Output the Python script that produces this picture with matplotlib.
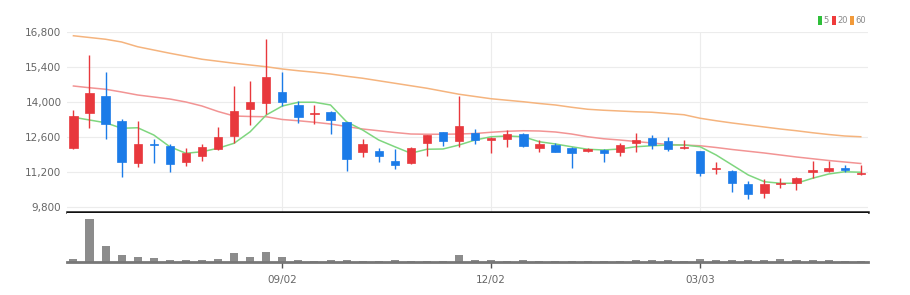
import matplotlib
matplotlib.use("Agg")
import matplotlib.pyplot as plt
import numpy as np
from matplotlib.patches import Rectangle

plt.rcParams['font.family'] = ['Liberation Sans Narrow', 'DejaVu Sans']

opens = [12160, 13547, 14240, 13253, 11547, 12333, 12240, 11613, 11840, 12107,
         12653, 13707, 13973, 14400, 13880, 13533, 13600, 13187, 12013, 12040,
         11640, 11547, 12360, 12787, 12427, 12773, 12480, 12520, 12720, 12173,
         12280, 12173, 12053, 12093, 12013, 12373, 12560, 12440, 12147, 12040,
         11307, 11240, 10707, 10373, 10707, 10747, 11213, 11253, 11360, 11133]
closes = [13440, 14347, 13107, 11587, 12333, 12293, 11507, 11947, 12213, 12613,
          13627, 13987, 15000, 14013, 13413, 13573, 13280, 11720, 12333, 11827,
          11467, 12173, 12667, 12427, 13040, 12480, 12560, 12733, 12253, 12333,
          12013, 11947, 12120, 11947, 12293, 12480, 12280, 12133, 12200, 11173,
          11373, 10747, 10307, 10707, 10760, 10973, 11280, 11360, 11267, 11173]
highs = [13680, 15880, 15187, 13307, 13253, 12507, 12320, 12173, 12320, 12987,
         14640, 14853, 16507, 15187, 14040, 13893, 13640, 13213, 12533, 12173,
         12107, 12213, 12680, 12813, 14240, 12933, 12613, 12867, 12773, 12467,
         12373, 12200, 12147, 12120, 12373, 12747, 12667, 12613, 12480, 12053,
         11587, 11267, 10840, 10920, 10973, 11013, 11640, 11640, 11480, 11467]
lows = [12120, 12960, 12507, 11013, 11413, 11573, 11187, 11453, 11653, 12080,
        12347, 13080, 13520, 13840, 13173, 13107, 12720, 11240, 11813, 11600,
        11307, 11520, 11840, 12253, 12213, 12307, 11973, 12187, 12213, 12013,
        11987, 11347, 12013, 11587, 11853, 12013, 12107, 12027, 12107, 11053,
        11120, 10400, 10107, 10160, 10547, 10480, 10947, 11213, 11213, 11093]
ma5 = [13390, 13280, 13170, 12950, 12970, 12680, 12210, 11950, 12010, 12150,
       12350, 12810, 13480, 13840, 13990, 13990, 13880, 13210, 12880, 12480,
       12210, 11950, 12110, 12120, 12280, 12480, 12610, 12640, 12610, 12410,
       12320, 12210, 12110, 12080, 12120, 12210, 12250, 12280, 12280, 12210,
       11880, 11480, 11080, 10810, 10750, 10750, 10950, 11120, 11210, 11190]
ma20 = [14640, 14570, 14510, 14400, 14280, 14200, 14120, 14000, 13840, 13620,
        13440, 13420, 13410, 13300, 13250, 13190, 13120, 13020, 12920, 12850,
        12780, 12720, 12710, 12710, 12720, 12740, 12790, 12830, 12850, 12840,
        12800, 12720, 12610, 12530, 12480, 12420, 12360, 12300, 12280, 12250,
        12180, 12100, 12030, 11960, 11880, 11800, 11730, 11660, 11600, 11540]
ma60 = [16650, 16580, 16510, 16400, 16210, 16080, 15950, 15830, 15710, 15630,
        15550, 15480, 15410, 15320, 15250, 15190, 15120, 15030, 14950, 14850,
        14750, 14650, 14550, 14430, 14310, 14220, 14130, 14070, 14010, 13940,
        13880, 13790, 13710, 13670, 13640, 13610, 13590, 13540, 13490, 13350,
        13250, 13160, 13080, 13000, 12920, 12850, 12770, 12700, 12640, 12610]
volumes = [9, 131, 47, 21, 14, 11, 7, 6, 6, 9,
           26, 14, 31, 14, 6, 4, 6, 7, 3, 3,
           6, 3, 3, 3, 22, 5, 5, 3, 6, 3,
           3, 3, 3, 3, 3, 7, 6, 6, 3, 9,
           7, 7, 7, 5, 10, 5, 7, 7, 3, 3]
price_ticks = [9800, 11200, 12600, 14000, 15400, 16800]
date_tick_idx = [13, 26, 39]
date_tick_labels = ['09/02', '12/02', '03/03']
ma_labels = ['5', '20', '60']

RED = '#e8383d'
BLUE = '#1b7be8'
MA_COLORS = ['#7fd67f', '#f29494', '#f5b47e']
LEG_COLORS = ['#2fbf3a', '#ef3b3b', '#f29a3a']

W, H = 910, 295
fig = plt.figure(figsize=(W / 100, H / 100), dpi=100)

def frac(x0, y0, x1, y1):
    return [x0 / W, 1 - y1 / H, (x1 - x0) / W, (y1 - y0) / H]

ax = fig.add_axes(frac(67, 32, 868, 212))
axv = fig.add_axes(frac(67, 213, 868, 262))

n = len(opens)
x = np.arange(n)
xlim = (-0.4, n - 1 + 0.45)

for i in range(n):
    o, c, h, l = opens[i], closes[i], highs[i], lows[i]
    col = RED if c >= o else BLUE
    ax.vlines(i, l, h, color=col, lw=1.0, zorder=3)
    bot = min(o, c)
    ht = max(abs(c - o), 25)
    ax.add_patch(Rectangle((i - 0.26, bot), 0.52, ht, facecolor=col,
                           edgecolor=col, lw=0.5, zorder=4))

ax.plot(x, ma60, color=MA_COLORS[2], lw=1.1, zorder=2)
ax.plot(x, ma20, color=MA_COLORS[1], lw=1.1, zorder=2)
ax.plot(x, ma5, color=MA_COLORS[0], lw=1.1, zorder=2)

ax.set_xlim(*xlim)
ax.set_ylim(9600, 16800)
ax.set_yticks(price_ticks)
ax.set_yticklabels([f'{v:,}' for v in price_ticks])
ax.set_xticks([x[i] for i in date_tick_idx])
ax.tick_params(axis='x', length=0, labelbottom=False)
ax.tick_params(axis='y', length=0, labelsize=7.5, colors='#666666', pad=4)
ax.grid(True, color='#ececec', lw=0.8, zorder=0)
for s in ['top', 'right', 'left']:
    ax.spines[s].set_visible(False)
ax.spines['bottom'].set_color('#111111')
ax.spines['bottom'].set_linewidth(1.8)

axv.bar(x, volumes, width=0.5, color='#8c8c8c', zorder=2)
axv.set_xlim(*xlim)
axv.set_ylim(0, 148)
axv.set_yticks([])
axv.set_xticks([x[i] for i in date_tick_idx])
axv.set_xticklabels(date_tick_labels)
axv.tick_params(axis='x', length=4, width=1, color='#555555', labelsize=7.5,
                labelcolor='#666666', pad=5)
for s in ['top', 'right', 'left']:
    axv.spines[s].set_visible(False)
axv.spines['bottom'].set_color('#777777')
axv.spines['bottom'].set_linewidth(2)

# legend
sq_x = [818, 832, 850]
for lab, colr, sx in zip(ma_labels, LEG_COLORS, sq_x):
    fig.patches.append(Rectangle((sx / W, 1 - 24.5 / H), 4 / W, 8 / H,
                                 transform=fig.transFigure, facecolor=colr,
                                 edgecolor='none'))
    fig.text((sx + 5.5) / W, 1 - 20.5 / H, lab, fontsize=6, color='#888888',
             va='center', ha='left')

fig.savefig('out.png', dpi=100, facecolor='white')
